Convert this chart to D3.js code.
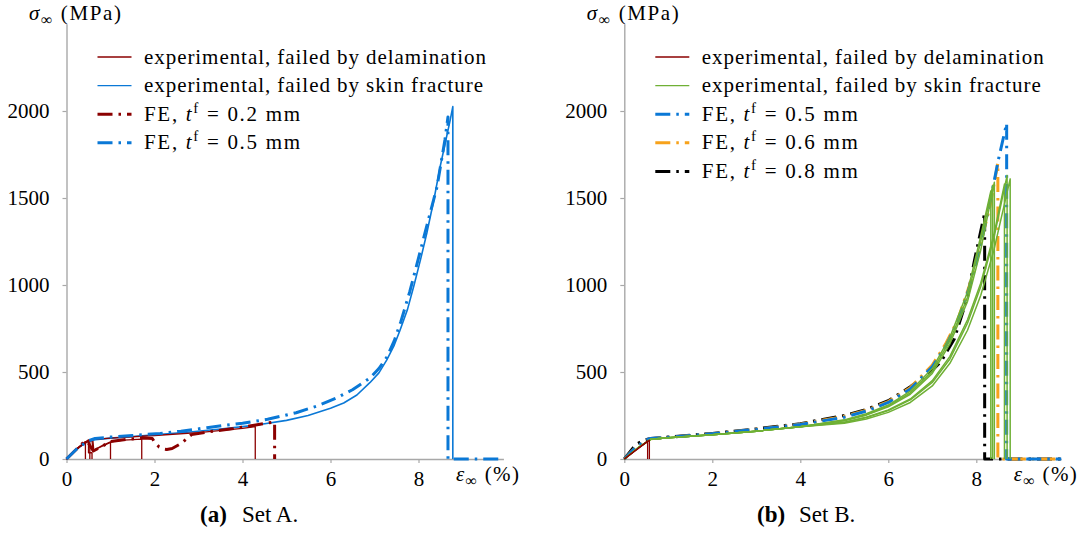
<!DOCTYPE html>
<html>
<head>
<meta charset="utf-8">
<script src="https://cdn.jsdelivr.net/npm/d3@7"></script>
<style>
  html, body { margin: 0; padding: 0; background: #fff; }
  svg { display: block; }
  text { font-family: "Liberation Serif", "Times New Roman", serif; fill: #000; }
</style>
</head>
<body>
<svg id="chart" width="1083" height="535"></svg>
<script>
// ---------- DATA (strain %, stress MPa) ----------
const xTicks = [0, 2, 4, 6, 8];
const yTicks = [0, 500, 1000, 1500, 2000];

// Set A
const A_expDelam1 = [[0,0],[0.2,52],[0.43,100],[0.43,0]];
const A_expDelam2 = [[0,0],[0.25,62],[0.5,106],[0.53,108],[0.53,0]];
const A_expDelam3 = [[0,0],[0.25,60],[0.45,100],[0.5,104],[0.5,36],[0.58,36],[0.58,0]];
const A_expDelam4 = [[0,0],[0.3,72],[0.5,104],[0.58,108],[0.6,48],[0.8,72],[1.0,96],[1.0,0]];
const A_expDelam5 = [[0,0],[0.3,70],[0.5,102],[0.6,106],[0.62,50],[0.8,76],[1.0,98],[1.3,108],[1.71,114],[1.71,0]];
const A_expDelam6 = [[0,0],[0.3,72],[0.5,110],[1.0,120],[2.0,135],[3.0,152],[4.0,176],[4.29,186],[4.29,0]];
const A_expSkin1 = [[0,0],[0.2,48],[0.43,95],[0.6,110],[1.0,120],[1.5,129],[2.0,139],[2.81,155],[3.5,172],[4.32,195],[5.0,222],[5.49,250],[6.0,292],[6.3,322],[6.6,368],[6.9,440],[7.1,495],[7.28,570],[7.45,655],[7.58,740],[7.75,860],[7.9,1000],[8.05,1150],[8.19,1299],[8.35,1490],[8.49,1678],[8.62,1830],[8.72,1948],[8.78,2025],[8.78,0]];
const A_fe02 = [[0,0],[0.25,62],[0.42,104],[0.5,90],[0.61,46],[0.8,72],[1.0,100],[1.4,114],[1.75,121],[1.95,118],[2.0,98],[2.1,70],[2.2,58],[2.28,55],[2.4,60],[2.61,90],[2.84,140],[3.2,155],[3.8,175],[4.3,195],[4.6,208],[4.73,212],[4.73,0]];
const A_fe05 = [[0,0],[0.25,62],[0.5,105],[0.65,118],[1.0,126],[1.5,135],[2.13,147],[2.6,160],[3.19,180],[3.55,192],[4.0,206],[4.57,228],[5.22,266],[5.7,305],[6.12,349],[6.5,398],[6.9,466],[7.1,520],[7.28,585],[7.45,680],[7.6,790],[7.8,960],[8.03,1184],[8.22,1370],[8.42,1563],[8.6,1833],[8.67,1966],[8.67,0],[9.93,0]];

// Set B
const B_expDelam1 = [[0,0],[0.53,103],[0.53,0]];
const B_expDelam2 = [[0,0],[0.57,108],[0.57,0]];
const B_expSkin1 = [[0,0],[0.3,62],[0.6,113],[1.0,122],[2.0,140],[3.0,160],[4.0,185],[5,225],[5.5,260],[6,310],[6.5,390],[7,520],[7.4,700],[7.8,960],[8.1,1280],[8.33,1540],[8.33,0]];
const B_expSkin2 = [[0,0],[0.3,62],[0.6,113],[1.0,122],[2.0,140],[3.0,160],[4.0,185],[5,222],[5.5,255],[6,305],[6.5,380],[7,505],[7.4,680],[7.8,930],[8.1,1250],[8.37,1570],[8.37,0]];
const B_expSkin3 = [[0,0],[0.3,62],[0.6,113],[1.0,122],[2.0,140],[3.0,160],[4.0,185],[5,220],[5.5,252],[6,300],[6.5,372],[7,492],[7.4,662],[7.8,905],[8.1,1200],[8.41,1590],[8.41,0]];
const B_expSkin4 = [[0,0],[0.3,62],[0.6,113],[1.0,122],[2.0,140],[3.0,160],[4.0,185],[5,212],[5.5,240],[6,282],[6.5,345],[7,450],[7.4,590],[7.8,800],[8.1,1010],[8.4,1290],[8.64,1580],[8.64,0]];
const B_expSkin5 = [[0,0],[0.3,62],[0.6,113],[1.0,122],[2.0,140],[3.0,160],[4.0,185],[5,210],[5.5,238],[6,278],[6.5,340],[7,440],[7.4,575],[7.8,780],[8.1,990],[8.4,1270],[8.70,1630],[8.70,0]];
const B_expSkin6 = [[0,0],[0.3,62],[0.6,113],[1.0,122],[2.0,140],[3.0,160],[4.0,185],[5,205],[5.5,230],[6,268],[6.5,325],[7,420],[7.4,550],[7.8,740],[8.1,940],[8.4,1200],[8.77,1610],[8.77,0]];
const B_fe05 = [[0,0],[0.25,65],[0.5,110],[0.6,118],[1,125],[2,145],[3,170],[4,198],[5,240],[5.5,275],[6,325],[6.5,402],[7,530],[7.3,645],[7.6,800],[7.9,1030],[8.1,1230],[8.38,1563],[8.5,1718],[8.69,1929],[8.69,0],[9.93,0]];
const B_fe06 = [[0,0],[0.25,65],[0.5,108],[0.6,117],[1,125],[2,145],[3,171],[4,200],[5,245],[5.5,280],[6,330],[6.5,410],[7,540],[7.3,660],[7.58,800],[7.9,1040],[8.1,1240],[8.31,1450],[8.49,1700],[8.49,0],[9.93,0]];
const B_fe08 = [[0,0],[0.27,85],[0.45,108],[0.6,118],[1,126],[2,147],[3,173],[4,203],[5,250],[5.5,285],[6,335],[6.5,415],[7,510],[7.2,560],[7.5,690],[7.8,930],[7.96,1144],[8.19,1414],[8.19,0],[9.93,0]];

// ---------- STYLES ----------
const C_RED = "#8b0000", C_BLUE = "#0a78d6", C_GREEN = "#6fb035", C_ORANGE = "#f7a21b", C_BLACK = "#000000";
const DASHDOT = "15,6,2.5,6";
const FS = 21;

const svg = d3.select("#chart");
svg.append("rect").attr("width", 1083).attr("height", 535).attr("fill", "#fff");

function panel(cfg) {
  const x = d3.scaleLinear().domain([0, 9.93]).range([cfg.x0, cfg.x0 + 44 * 9.93]);
  const y = d3.scaleLinear().domain([0, 2500]).range([459, 24]);
  const g = svg.append("g");
  const line = d3.line().x(d => x(d[0])).y(d => y(d[1]));

  // axes
  const ax = g.append("g").attr("transform", `translate(0,${y(0)})`)
    .call(d3.axisBottom(x).tickValues(xTicks).tickFormat(d3.format("d")).tickSize(4).tickSizeOuter(0).tickPadding(8));
  const ay = g.append("g").attr("transform", `translate(${x(0)},0)`)
    .call(d3.axisLeft(y).tickValues(yTicks).tickFormat(d3.format("d")).tickSize(4).tickSizeOuter(0).tickPadding(13));
  [ax, ay].forEach(a => {
    a.attr("font-family", "Liberation Serif").attr("font-size", FS);
    a.selectAll("path.domain").attr("stroke", "#a8a8a8").attr("stroke-width", 1.4);
    a.selectAll(".tick line").attr("stroke", "#a8a8a8").attr("stroke-width", 1.2);
    a.selectAll(".tick text").attr("fill", "#000");
  });

  // curves
  cfg.series.forEach(s => {
    g.append("path").datum(s.data).attr("d", line)
      .attr("fill", "none").attr("stroke", s.color).attr("stroke-width", s.w)
      .attr("stroke-dasharray", s.dash || null)
      .attr("stroke-linejoin", "round");
  });

  // y label
  const yl = g.append("text").attr("x", cfg.x0 - 37.5).attr("y", 20).attr("font-size", FS)
    .attr("textLength", 92).attr("lengthAdjust", "spacing");
  yl.append("tspan").attr("font-style", "italic").text("σ");
  yl.append("tspan").attr("font-size", 16).attr("dy", 5).text("∞");
  yl.append("tspan").attr("dy", -5).text(" (MPa)");

  // x label
  const xl = g.append("text").attr("x", x(8.85)).attr("y", 481).attr("font-size", FS)
    .attr("textLength", 63).attr("lengthAdjust", "spacing");
  xl.append("tspan").attr("font-style", "italic").text("ε");
  xl.append("tspan").attr("font-size", 16).attr("dy", 5).text("∞");
  xl.append("tspan").attr("dy", -5).text(" (%)");

  // legend
  cfg.legend.forEach((L, i) => {
    const ly = 57 + i * 28.6;
    g.append("line").attr("x1", cfg.x0 + 31).attr("x2", cfg.x0 + 65).attr("y1", ly).attr("y2", ly)
      .attr("stroke", L.color).attr("stroke-width", L.w).attr("stroke-dasharray", L.dash || null);
    const t = g.append("text").attr("x", cfg.x0 + 77.5).attr("y", ly + 6.5).attr("font-size", FS)
      .attr("textLength", L.len).attr("lengthAdjust", "spacing");
    if (L.fe) {
      t.append("tspan").text("FE, ");
      t.append("tspan").attr("font-style", "italic").text("t");
      t.append("tspan").attr("font-size", 15).attr("dy", -8).text("f");
      t.append("tspan").attr("dy", 8).text("  =  " + L.fe + " mm");
    } else {
      t.text(L.label);
    }
  });

  // caption
  g.append("text").attr("x", cfg.capX).attr("y", 522).attr("font-size", 23)
    .attr("font-weight", "bold").text(cfg.capA);
  g.append("text").attr("x", cfg.capX + 42).attr("y", 522).attr("font-size", 23).text(cfg.capB);
}

panel({
  x0: 66.5, capX: 200, capA: "(a)", capB: "Set A.",
  series: [
    { data: A_expSkin1, color: C_BLUE, w: 1.6 },
    { data: A_expDelam1, color: C_RED, w: 1.3 },
    { data: A_expDelam2, color: C_RED, w: 1.3 },
    { data: A_expDelam3, color: C_RED, w: 1.3 },
    { data: A_expDelam4, color: C_RED, w: 1.3 },
    { data: A_expDelam5, color: C_RED, w: 1.3 },
    { data: A_expDelam6, color: C_RED, w: 1.3 },
    { data: A_fe02, color: C_RED, w: 3, dash: DASHDOT },
    { data: A_fe05, color: C_BLUE, w: 3, dash: DASHDOT }
  ],
  legend: [
    { color: C_RED, w: 1.3, label: "experimental, failed by delamination", len: 342 },
    { color: C_BLUE, w: 1.3, label: "experimental, failed by skin fracture", len: 339 },
    { color: C_RED, w: 3, dash: DASHDOT, fe: "0.2", len: 156 },
    { color: C_BLUE, w: 3, dash: DASHDOT, fe: "0.5", len: 156 }
  ]
});

panel({
  x0: 624.3, capX: 757, capA: "(b)", capB: "Set B.",
  series: [
    { data: B_fe08, color: C_BLACK, w: 3, dash: DASHDOT },
    { data: B_fe06, color: C_ORANGE, w: 3, dash: DASHDOT },
    { data: B_fe05, color: C_BLUE, w: 3, dash: DASHDOT },
    { data: B_expSkin1, color: C_GREEN, w: 1.5 },
    { data: B_expSkin2, color: C_GREEN, w: 1.5 },
    { data: B_expSkin3, color: C_GREEN, w: 1.5 },
    { data: B_expSkin4, color: C_GREEN, w: 1.5 },
    { data: B_expSkin5, color: C_GREEN, w: 1.5 },
    { data: B_expSkin6, color: C_GREEN, w: 1.5 },
    { data: B_expDelam1, color: C_RED, w: 1.3 },
    { data: B_expDelam2, color: C_RED, w: 1.3 }
  ],
  legend: [
    { color: C_RED, w: 1.3, label: "experimental, failed by delamination", len: 342 },
    { color: C_GREEN, w: 1.3, label: "experimental, failed by skin fracture", len: 339 },
    { color: C_BLUE, w: 3, dash: DASHDOT, fe: "0.5", len: 156 },
    { color: C_ORANGE, w: 3, dash: DASHDOT, fe: "0.6", len: 156 },
    { color: C_BLACK, w: 3, dash: DASHDOT, fe: "0.8", len: 156 }
  ]
});
</script>
</body>
</html>
